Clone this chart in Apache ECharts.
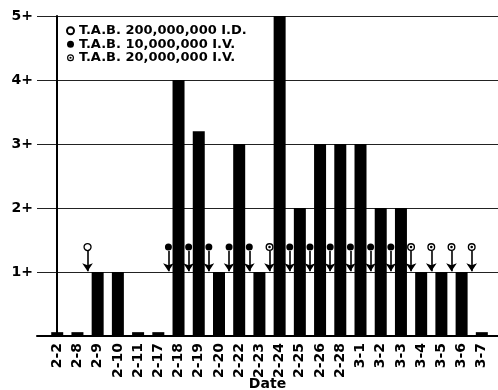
<!DOCTYPE html>
<html>
<head>
<meta charset="utf-8">
<script src="https://cdn.jsdelivr.net/npm/echarts@6/dist/echarts.min.js"></script>
<style>html,body{margin:0;padding:0;background:#fff}#c{width:498px;height:390px}</style>
</head>
<body>
<div id="c"></div>
<script>
// Data
const categories = ['2-2','2-8','2-9','2-10','2-11','2-17','2-18','2-19','2-20','2-22','2-23','2-24','2-25','2-26','2-28','3-1','3-2','3-3','3-4','3-5','3-6','3-7'];
const reaction = [0.06,0.06,1,1,0.06,0.06,4,3.2,1,3,1,5,2,3,3,3,2,2,1,1,1,0.06];
const yTickLabels = ['','1+','2+','3+','4+','5+'];
const doseID200 = ['2-9'];
const doseIV10 = ['2-18','2-19','2-20','2-22','2-23','2-25','2-26','2-28','3-1','3-2','3-3'];
const doseIV20 = ['2-24','3-4','3-5','3-6','3-7'];
const seriesNames = ['T.A.B. 200,000,000 I.D.','T.A.B. 10,000,000 I.V.','T.A.B. 20,000,000 I.V.'];

const markerLevel = 1.39, arrowTop = 1.33, arrowTip = 1.01;
const idx = c => categories.indexOf(c);
const markerPts = arr => arr.map(c => [idx(c) - 0.5, markerLevel]);
const allDoses = doseID200.concat(doseIV10, doseIV20);
const arrowData = allDoses.map(c => ({coords: [[idx(c) - 0.5, arrowTop], [idx(c) - 0.5, arrowTip]]}));

const FONT = 'DejaVu Sans';
const dotted = 'path://M0,-5A5,5 0 1,1 0,5A5,5 0 1,1 0,-5ZM0,-3.3A3.3,3.3 0 1,0 0,3.3A3.3,3.3 0 1,0 0,-3.3ZM0,-1.6A1.6,1.6 0 1,1 0,1.6A1.6,1.6 0 1,1 0,-1.6Z';

const chart = echarts.init(document.getElementById('c'), null, {renderer: 'canvas'});
chart.setOption({
  animation: false,
  backgroundColor: '#fff',
  grid: {left: 37, right: 0, top: 16, bottom: 54, containLabel: false, outerBoundsMode: 'none'},
  legend: {
    orient: 'vertical', left: 61, top: 19, itemGap: 0, itemWidth: 7, itemHeight: 7,
    data: seriesNames,
    textStyle: {fontFamily: FONT, fontWeight: 'bold', fontSize: 13, lineHeight: 13.5, color: '#000', padding: [0,0,0,0]}
  },
  xAxis: {
    type: 'value', min: -1, max: 21.8, interval: 1,
    name: 'Date', nameLocation: 'middle', nameGap: 41, nameMoveOverlap: false,
    nameTextStyle: {fontFamily: FONT, fontWeight: 'bold', fontSize: 14, color: '#000', verticalAlign: 'top'},
    axisLine: {show: true, onZero: false, lineStyle: {color: '#000', width: 2}},
    axisTick: {show: false},
    splitLine: {show: false},
    axisLabel: {
      rotate: 90, margin: 7, fontFamily: FONT, fontWeight: 'bold', fontSize: 14, color: '#000',
      showMinLabel: true, showMaxLabel: true,
      formatter: v => (Number.isInteger(v) && categories[v]) ? categories[v] : ''
    }
  },
  yAxis: {
    type: 'value', min: 0, max: 5, interval: 1,
    axisLine: {show: true, lineStyle: {color: '#000', width: 2}},
    axisTick: {show: false},
    splitLine: {show: true, lineStyle: {color: '#222', width: 1}},
    axisLabel: {margin: 4, fontFamily: FONT, fontWeight: 'bold', fontSize: 14, color: '#000',
      formatter: v => yTickLabels[v]}
  },
  series: [
    {
      type: 'bar', name: 'reaction', barWidth: 12,
      itemStyle: {color: '#000'},
      data: reaction.map((v, i) => [i, v]),
      z: 2
    },
    {
      type: 'lines', coordinateSystem: 'cartesian2d', polyline: false,
      symbol: ['none', 'arrow'], symbolSize: [6, 8],
      lineStyle: {color: '#000', width: 1.6, opacity: 1},
      data: arrowData, z: 3
    },
    {
      type: 'scatter', name: seriesNames[0], symbol: 'circle', symbolSize: 7,
      itemStyle: {color: '#fff', borderColor: '#000', borderWidth: 1.3, opacity: 1},
      data: markerPts(doseID200), z: 4
    },
    {
      type: 'scatter', name: seriesNames[1], symbol: 'circle', symbolSize: 7,
      itemStyle: {color: '#000', opacity: 1},
      data: markerPts(doseIV10), z: 4
    },
    {
      type: 'scatter', name: seriesNames[2], symbol: dotted, symbolSize: 8,
      itemStyle: {color: '#000', opacity: 1},
      data: markerPts(doseIV20), z: 4
    }
  ]
});
</script>
</body>
</html>
